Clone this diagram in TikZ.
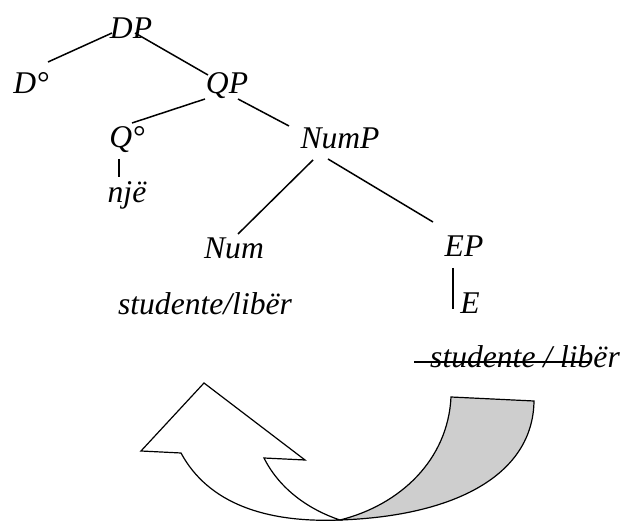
\documentclass[tikz,border=0pt]{standalone}
\usepackage{fontspec}
\setmainfont{Liberation Serif}[ItalicFont={Liberation Serif Italic}]
\newfontfamily\timesit{Liberation Serif Italic}
\definecolor{bandgray}{RGB}{206,206,206}
\begin{document}
\begin{tikzpicture}[x=0.5pt,y=-0.5pt,
  lbl/.style={anchor=base,inner sep=0pt,font=\fontsize{15.8}{19}\selectfont\timesit},
  edge/.style={line width=0.75pt},
  arrowpart/.style={draw,line width=0.6pt,line join=miter}]
\useasboundingbox (0,0) rectangle (622,523);
% tree labels
\node[lbl] (DP)   at (131,39)  {DP};
\node[lbl] (Dz)   at (31,94)   {D°};
\node[lbl] (QP)   at (227,94)  {QP};
\node[lbl] (Qz)   at (127,148) {Q°};
\node[lbl] (nje)  at (127,203) {një};
\node[lbl] (NumP) at (340,149) {NumP};
\node[lbl] (Num)  at (234,259) {Num};
\node[lbl] (EP)   at (464,257) {EP};
\node[lbl] (E)    at (470,314) {E};
\node[lbl] (stud) at (205,315) {studente/libër};
\node[lbl] (strk) at (525,368) {studente / libër};
% tree edges
\draw[edge] ([shift={(-19,-6)}]DP.base) -- ([shift={(17,-32)}]Dz.base);
\draw[edge] ([shift={(4,-6)}]DP.base) -- ([shift={(-19,-19)}]QP.base);
\draw[edge] ([shift={(-22,5)}]QP.base) -- ([shift={(5,-25)}]Qz.base);
\draw[edge] ([shift={(11,5)}]QP.base) -- ([shift={(-51,-23)}]NumP.base);
\draw[edge] ([shift={(-8,11)}]Qz.base) -- ([shift={(-8,-26)}]nje.base);
\draw[edge] ([shift={(-27,11)}]NumP.base) -- ([shift={(4,-25)}]Num.base);
\draw[edge] ([shift={(-12,10)}]NumP.base) -- ([shift={(-31,-35)}]EP.base);
\draw[edge] ([shift={(-11,11)}]EP.base) -- ([shift={(-17,-5)}]E.base);
% strike-through
\draw[edge] ([shift={(-111,-6)}]strk.base) -- ([shift={(65,-6)}]strk.base);
% curved arrow: grey back band
\path[arrowpart,fill=bandgray] (451,397) -- (534,401)
  .. controls (533,475) and (455,516) .. (340,520)
  .. controls (400,505) and (448,460) .. (451,397) -- cycle;
% curved arrow: white front with head
\path[arrowpart,fill=white] (204,383) -- (305,460) -- (264,458)
  .. controls (280,490) and (310,510) .. (340,520)
  .. controls (265,523) and (208,503) .. (181,453) -- (141,451) -- cycle;
\end{tikzpicture}
\end{document}
